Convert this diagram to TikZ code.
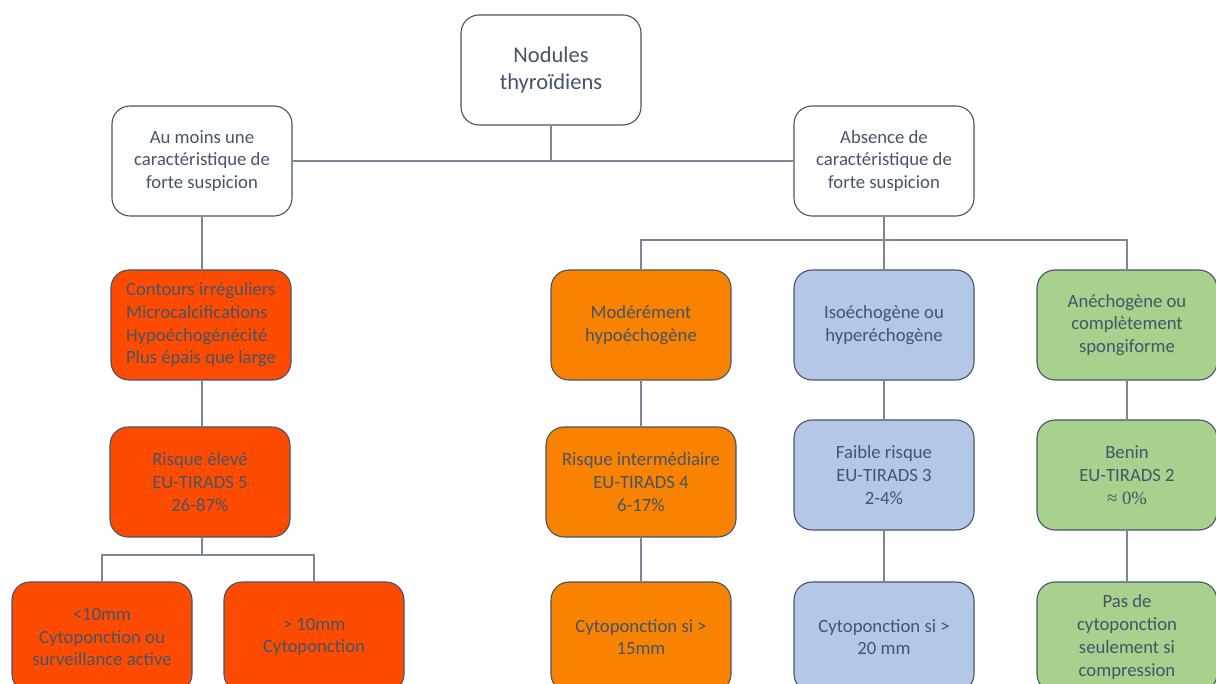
\documentclass[tikz,border=0pt]{standalone}
\usepackage{fontspec}
\setmainfont{Carlito}
\newfontfamily\serifmath{Liberation Serif}
\usepackage{tikz}
\usetikzlibrary{positioning}
\definecolor{bord}{HTML}{44546A}
\definecolor{txt}{HTML}{44546A}
\definecolor{trait}{HTML}{7A879A}
\definecolor{rouge}{HTML}{FF4B00}
\definecolor{orangeb}{HTML}{F98200}
\definecolor{bleu}{HTML}{B4C7E7}
\definecolor{vert}{HTML}{A9D18E}

\begin{document}
\begin{tikzpicture}[x=1pt, y=-1pt,
    box/.style={draw=bord, line width=1.1pt, rounded corners=18pt, minimum width=180pt,
      minimum height=110pt, align=center, text=txt, inner sep=2pt,
      font=\fontsize{18.7}{22.7}\selectfont},
    eleve/.style={box, fill=rouge},
    inter/.style={box, fill=orangeb},
    faible/.style={box, fill=bleu},
    benin/.style={box, fill=vert},
    lien/.style={draw=trait, line width=1.1pt}]
    \useasboundingbox (0,0) rectangle (1216,684);
    % niveau 0 et 1
    \node[box, font=\fontsize{22.5}{27}\selectfont] (nod) at (551,70) {Nodules\\thyroïdiens};
    \node[box] (forte) at (202,161) {Au moins une\\caractéristique de\\forte suspicion};
    \node[box] (abs) at (884,161) {Absence de\\caractéristique de\\forte suspicion};
    % branche suspecte
    \node[eleve, align=left] (crit) at (201,325) {Contours irréguliers\\Microcalcifications\\Hypoéchogénécité\\Plus épais que large};
    \node[eleve] (r5) at (200,482) {Risque élevé\\EU-TIRADS 5\\26-87\%};
    \node[eleve] (moins) at (102,637) {<10mm\\Cytoponction ou\\surveillance active};
    \node[eleve] (plus) at (314,637) {> 10mm\\Cytoponction};
    % branche non suspecte
    \node[inter] (mod) at (641,325) {Modérément\\hypoéchogène};
    \node[faible] (iso) at (884,325) {Isoéchogène ou\\hyperéchogène};
    \node[benin] (ane) at (1127,325) {Anéchogène ou\\complètement\\spongiforme};
    \node[inter, minimum width=190pt] (r4) at (641,482) {Risque intermédiaire\\EU-TIRADS 4\\6-17\%};
    \node[faible] (r3) at (884,475) {Faible risque\\EU-TIRADS 3\\2-4\%};
    \node[benin] (r2) at (1127,475) {Benin\\EU-TIRADS 2\\{\serifmath ≈ 0\%}};
    \node[inter] (c15) at (641,637) {Cytoponction si >\\15mm};
    \node[faible] (c20) at (884,637) {Cytoponction si >\\20 mm};
    \node[benin] (pas) at (1127,637) {Pas de\\cytoponction\\seulement si\\compression};
    % liens
    \coordinate (lbar) at (202,555);
    \coordinate (rbar) at (884,240);
    \path[lien] (forte.east) -- (abs.west)
      (nod.south) -- (nod.south |- forte.east)
      (forte.south) -- (crit.north -| forte.south)
      (crit.south -| forte.south) -- (r5.north -| forte.south)
      (r5.south -| forte.south) -- (lbar)
      (moins.north) |- (lbar) -| (plus.north)
      (abs.south) -- (iso.north)
      (mod.north) |- (rbar) -| (ane.north)
      (mod.south) -- (r4.north)
      (iso.south) -- (r3.north)
      (ane.south) -- (r2.north)
      (r4.south) -- (c15.north)
      (r3.south) -- (c20.north)
      (r2.south) -- (pas.north);
\end{tikzpicture}
\end{document}
